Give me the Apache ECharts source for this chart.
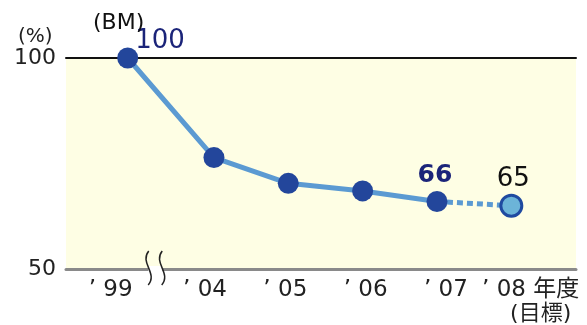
<!DOCTYPE html>
<html>
<head>
<meta charset="utf-8">
<script src="https://cdn.jsdelivr.net/npm/echarts@6/dist/echarts.min.js"></script>
<style>
  html, body { margin: 0; padding: 0; background: #fff; }
  #chart { width: 587px; height: 325px; }
</style>
</head>
<body>
<div id="chart"></div>
<script>
// Fiscal years and the BM index (1999 = 100); the 2008 value is the target.
const years = ['’ 99', '’ 04', '’ 05', '’ 06', '’ 07', '’ 08'];
const bmIndex = [100, 76.4, 70.3, 68.5, 66, 65];
const yTicks = [50, 100];
const unitLabel = '(%)';
const seriesLabel = '(BM)';
const yearUnit = '年度';
const targetNote = '(目標)';

// Layout: year slots on a value axis, with the 1999 slot pulled left past the axis break.
const BREAK_SHIFT = 1.16;   // extra distance before the first slot
const BREAK_AT = -0.79;     // where the break mark sits on the axis
const X_MIN = -1.99, X_MAX = 4.87;
const slotOf = i => (i === 0 ? -BREAK_SHIFT : i - 1);
// tick labels are spaced on their own, slightly wider rhythm; the last one carries the unit
const labelAt = [-1.39, -0.12, 0.96, 2.04, 3.12, 4.26];

const FONT = '"DejaVu Sans", "Noto Sans CJK JP", sans-serif';
const LINE = '#5b9ad2';
const DOT = '#23469b';
const NAVY = '#1b2479';

const pointLabels = {
  0: { show: true, position: 'right', offset: [-8, -17], color: NAVY, fontSize: 26, fontFamily: FONT },
  4: { show: true, position: 'top', offset: [-2, 2], color: NAVY, fontSize: 25, fontWeight: 'bold', fontFamily: FONT },
  5: { show: true, position: 'top', offset: [2, 4], color: '#111', fontSize: 26, fontFamily: FONT }
};

const pts = bmIndex.map((v, i) => ({
  value: [slotOf(i), v],
  label: Object.assign({ formatter: () => String(v) }, pointLabels[i] || { show: false })
}));

const solidData = pts.slice(0, 5);
const targetData = [
  { value: pts[4].value, symbol: 'none', label: { show: false } },
  Object.assign({}, pts[5], {
    symbolSize: 21,
    itemStyle: { color: '#6cb4d8', borderColor: '#1f4aa0', borderWidth: 3 }
  })
];

function yearLabel(v) {
  const i = labelAt.indexOf(v);
  if (i < 0) return '';
  if (i === years.length - 1) {
    return '{y|' + years[i] + ' ' + yearUnit + '}\n{n|' + targetNote + '}';
  }
  return '{y|' + years[i] + '}';
}

const chart = echarts.init(document.getElementById('chart'), null, { renderer: 'canvas' });

chart.setOption({
  animation: false,
  title: [
    {
      text: seriesLabel,
      left: 88, top: 7,
      textStyle: { fontFamily: FONT, fontSize: 22, fontWeight: 'normal', color: '#111' }
    },
    {
      text: unitLabel,
      left: 13, top: 22,
      textStyle: { fontFamily: FONT, fontSize: 20, fontWeight: 'normal', color: '#222' }
    }
  ],
  grid: {
    left: 66, right: 11, top: 58, bottom: 56,
    outerBoundsMode: 'none',
    show: true, backgroundColor: '#fefee4', borderWidth: 0
  },
  xAxis: [
    {
      type: 'value', min: X_MIN, max: X_MAX,
      axisLine: { show: true, lineStyle: { color: '#8a8a8a', width: 3 } },
      axisTick: { show: false },
      splitLine: { show: false },
      axisLabel: {
        customValues: labelAt,
        formatter: yearLabel,
        margin: 9,
        rich: {
          y: { fontFamily: FONT, fontSize: 23, color: '#222', lineHeight: 24 },
          n: { fontFamily: FONT, fontSize: 22, color: '#222', lineHeight: 24, padding: [0, 0, 0, 20] }
        }
      }
    },
    {
      type: 'value', min: X_MIN, max: X_MAX, position: 'top',
      axisLine: { show: true, lineStyle: { color: '#111', width: 2 } },
      axisTick: { show: false }, axisLabel: { show: false }, splitLine: { show: false }
    }
  ],
  yAxis: {
    type: 'value', min: yTicks[0], max: yTicks[1], interval: yTicks[1] - yTicks[0],
    axisLine: { show: false }, axisTick: { show: false }, splitLine: { show: false },
    axisLabel: { fontFamily: FONT, fontSize: 22, color: '#222', margin: 10 }
  },
  series: [
    {
      name: 'target',
      type: 'line',
      data: targetData,
      z: 2,
      symbol: 'circle',
      lineStyle: { color: LINE, width: 5, type: [6, 4] },
      label: { show: false }
    },
    {
      name: 'bm',
      type: 'line',
      data: solidData,
      z: 3,
      symbol: 'circle',
      symbolSize: 21,
      itemStyle: { color: DOT },
      lineStyle: { color: LINE, width: 5 }
    }
  ]
});

// Axis break mark: a white gap in the baseline with two wavy strokes.
const bx = chart.convertToPixel({ xAxisIndex: 0 }, BREAK_AT);
const by = chart.convertToPixel({ yAxisIndex: 0 }, yTicks[0]);
const wave = cx => ({
  type: 'bezierCurve',
  shape: {
    x1: cx + 0.5, y1: by - 18,
    cpx1: cx - 9, cpy1: by - 6,
    cpx2: cx + 10, cpy2: by + 4,
    x2: cx, y2: by + 16
  },
  style: { stroke: '#222', lineWidth: 1.5, fill: null },
  z: 100
});
chart.setOption({
  graphic: [
    { type: 'rect', shape: { x: bx - 7, y: by - 3, width: 14, height: 6 }, style: { fill: '#fff' }, z: 99 },
    wave(bx - 7),
    wave(bx + 6.5)
  ]
});
</script>
</body>
</html>
